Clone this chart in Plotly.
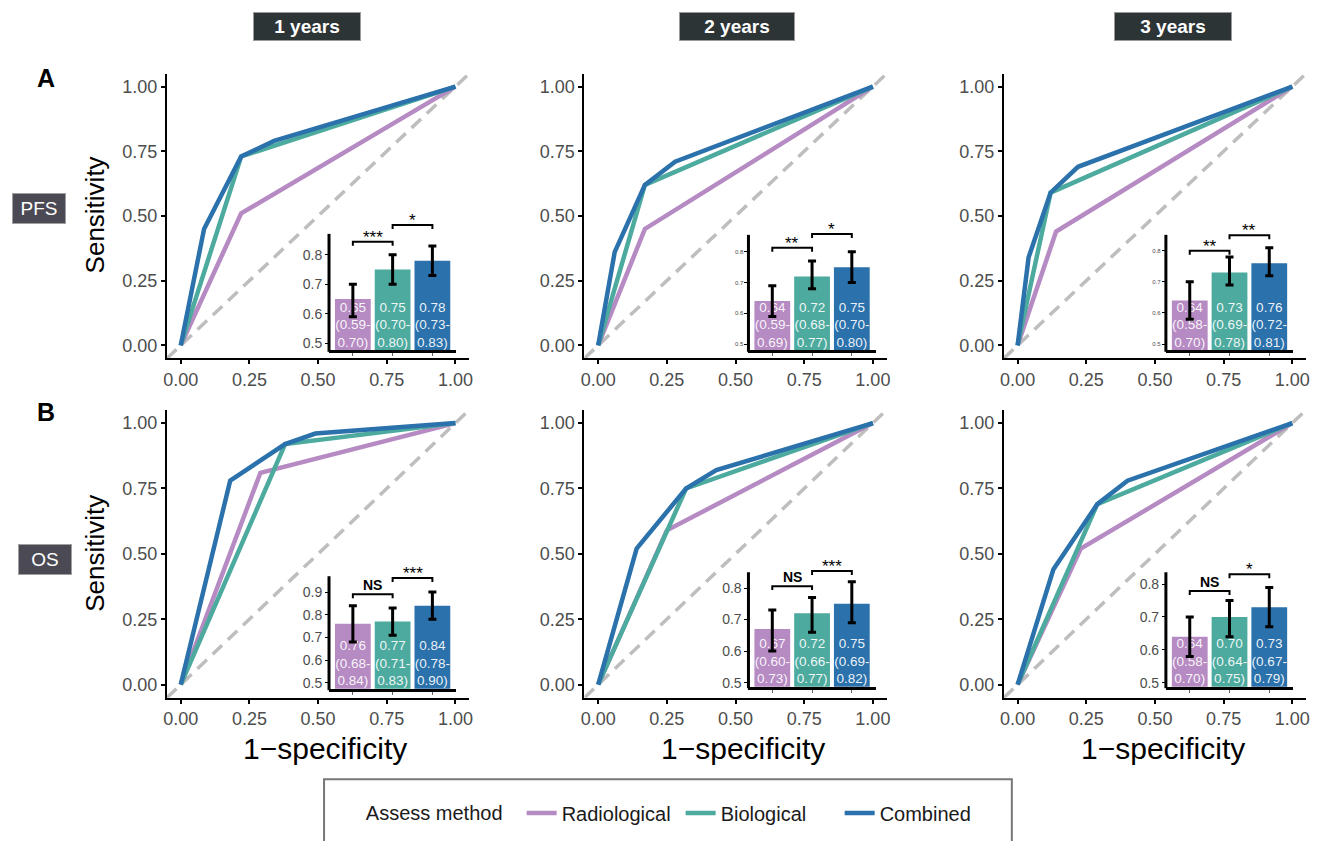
import plotly.graph_objects as go

W, H = 1317, 841
FONT = "Liberation Sans, Arial, sans-serif"

# ---------------- data ----------------
YEARS = ["1 years", "2 years", "3 years"]
OUTCOMES = ["PFS", "OS"]
METHODS = ["Radiological", "Biological", "Combined"]
COLORS = ["#B68AC2", "#4DAA9E", "#2B71AB"]

# ROC curves (1-specificity, sensitivity), one list per year
PFS_RAD_FPR = [[0, 0.22, 1], [0, 0.17, 1], [0, 0.14, 1]]
PFS_RAD_TPR = [[0, 0.51, 1], [0, 0.45, 1], [0, 0.44, 1]]
PFS_BIO_FPR = [[0, 0.22, 1], [0, 0.17, 1], [0, 0.12, 1]]
PFS_BIO_TPR = [[0, 0.73, 1], [0, 0.62, 1], [0, 0.59, 1]]
PFS_COMB_FPR = [[0, 0.085, 0.22, 0.34, 1], [0, 0.06, 0.17, 0.28, 1], [0, 0.04, 0.12, 0.22, 1]]
PFS_COMB_TPR = [[0, 0.45, 0.73, 0.79, 1], [0, 0.36, 0.62, 0.71, 1], [0, 0.34, 0.59, 0.69, 1]]

OS_RAD_FPR = [[0, 0.29, 1], [0, 0.25, 1], [0, 0.23, 1]]
OS_RAD_TPR = [[0, 0.81, 1], [0, 0.59, 1], [0, 0.52, 1]]
OS_BIO_FPR = [[0, 0.38, 1], [0, 0.32, 1], [0, 0.29, 1]]
OS_BIO_TPR = [[0, 0.92, 1], [0, 0.75, 1], [0, 0.69, 1]]
OS_COMB_FPR = [[0, 0.18, 0.38, 0.49, 1], [0, 0.14, 0.32, 0.43, 1], [0, 0.13, 0.29, 0.40, 1]]
OS_COMB_TPR = [[0, 0.78, 0.92, 0.96, 1], [0, 0.52, 0.75, 0.82, 1], [0, 0.44, 0.69, 0.78, 1]]

# AUC with 95% CI  [year][method]
PFS_AUC = [[0.65, 0.75, 0.78], [0.64, 0.72, 0.75], [0.64, 0.73, 0.76]]
PFS_LO = [[0.59, 0.70, 0.73], [0.59, 0.68, 0.70], [0.58, 0.69, 0.72]]
PFS_HI = [[0.70, 0.80, 0.83], [0.69, 0.77, 0.80], [0.70, 0.78, 0.81]]
OS_AUC = [[0.76, 0.77, 0.84], [0.67, 0.72, 0.75], [0.64, 0.70, 0.73]]
OS_LO = [[0.68, 0.71, 0.78], [0.60, 0.66, 0.69], [0.58, 0.64, 0.67]]
OS_HI = [[0.84, 0.83, 0.90], [0.73, 0.77, 0.82], [0.70, 0.75, 0.79]]

# significance labels (Rad vs Bio, Bio vs Comb) and bracket heights
PFS_SIG = [["***", "*"], ["**", "*"], ["**", "**"]]
OS_SIG = [["NS", "***"], ["NS", "***"], ["NS", "*"]]
PFS_BRACKET_Y = [[0.844, 0.901], [0.813, 0.858], [0.800, 0.850]]
OS_BRACKET_Y = [[0.891, 0.962], [0.806, 0.854], [0.779, 0.830]]

MAIN_TICKS = [0, 0.25, 0.5, 0.75, 1.0]
INSET_TICKS = [[[0.5, 0.6, 0.7, 0.8]] * 3,
               [[0.5, 0.6, 0.7, 0.8, 0.9], [0.5, 0.6, 0.7, 0.8], [0.5, 0.6, 0.7, 0.8]]]

roc_fpr = [[PFS_RAD_FPR, PFS_BIO_FPR, PFS_COMB_FPR], [OS_RAD_FPR, OS_BIO_FPR, OS_COMB_FPR]]
roc_tpr = [[PFS_RAD_TPR, PFS_BIO_TPR, PFS_COMB_TPR], [OS_RAD_TPR, OS_BIO_TPR, OS_COMB_TPR]]
auc = [PFS_AUC, OS_AUC]
auc_lo = [PFS_LO, OS_LO]
auc_hi = [PFS_HI, OS_HI]
sig = [PFS_SIG, OS_SIG]
br_y = [PFS_BRACKET_Y, OS_BRACKET_Y]

# ---------------- layout geometry (pixels) ----------------
def PX(x):
    return x / W

def PY(y):
    return 1 - y / H

COL_PX = [(164, 468), (584, 888), (1006, 1310)]
ROW_PX = [(74, 360), (412, 701)]
INSET_X0 = [327, 749, 1169]
INSET_W = 128
# (bottom px, axis top px, low value, axis top value)
INSET_GEOM = [[(352, 235, 0.476, 0.871), (352, 236, 0.48, 0.855), (352, 236, 0.48, 0.851)],
              [(692, 579, 0.474, 0.97), (690, 575, 0.487, 0.85), (690, 575, 0.488, 0.836)]]
INSET_TICKFONT = [[14, 6, 6], [14, 14, 14]]
EXTRA = 34  # px above axis for brackets

fig = go.Figure()
layout = dict(shapes=[], annotations=[])

def ref(n, l):
    return l if n == 1 else f"{l}{n}"

def axkey(n, l):
    return f"{l}axis" if n == 1 else f"{l}axis{n}"

for r in range(2):
    for c in range(3):
        k = r * 3 + c
        n = k + 1
        m = k + 7
        xr, yr = ref(n, "x"), ref(n, "y")
        # diagonal reference
        fig.add_trace(go.Scatter(x=[-0.05, 1.05], y=[-0.05, 1.05], mode="lines",
                                 line=dict(color="#BEBEBE", width=3.5, dash="13px,8px"),
                                 xaxis=xr, yaxis=yr, showlegend=False, hoverinfo="skip"))
        for mi, meth in enumerate(METHODS):
            fig.add_trace(go.Scatter(x=roc_fpr[r][mi][c], y=roc_tpr[r][mi][c], mode="lines",
                                     line=dict(color=COLORS[mi], width=4.5),
                                     name=meth, legendgroup=meth,
                                     showlegend=(k == 0), xaxis=xr, yaxis=yr))
        x0, x1 = COL_PX[c]
        t, b = ROW_PX[r]
        common = dict(showline=True, linecolor="black", linewidth=2, showgrid=False, zeroline=False,
                      ticks="outside", ticklen=4, tickwidth=1.5, tickcolor="black",
                      tickfont=dict(size=18, color="#4D4D4D", family=FONT),
                      range=[-0.05, 1.05], tickvals=MAIN_TICKS,
                      ticktext=[f"{v:.2f}" for v in MAIN_TICKS], fixedrange=True)
        layout[axkey(n, "x")] = dict(domain=[PX(x0), PX(x1)], anchor=yr, **common)
        layout[axkey(n, "y")] = dict(domain=[PY(b), PY(t)], anchor=xr, **common)

        # ---------- inset bar chart ----------
        ixr, iyr = ref(m, "x"), ref(m, "y")
        bpx, tpx, lo, hi = INSET_GEOM[r][c]
        ppu = (bpx - tpx) / (hi - lo)
        top_val = hi + EXTRA / ppu
        ix0 = INSET_X0[c]
        vals = auc[r][c]
        los = auc_lo[r][c]
        his = auc_hi[r][c]
        fig.add_trace(go.Bar(x=[1, 2, 3], y=vals, width=0.9, marker=dict(color=COLORS, line=dict(width=0)),
                             xaxis=ixr, yaxis=iyr, showlegend=False, hoverinfo="skip"))
        labels = [f"{v:.2f}<br>({l:.2f}-<br>{h:.2f})" for v, l, h in zip(vals, los, his)]
        fig.add_trace(go.Scatter(x=[1, 2, 3], y=[lo] * 3, mode="text", text=labels,
                                 textposition="top center", cliponaxis=False,
                                 textfont=dict(color="rgba(255,255,255,0.92)", size=13.5, family=FONT),
                                 xaxis=ixr, yaxis=iyr, showlegend=False, hoverinfo="skip"))
        fig.add_trace(go.Scatter(x=[1, 2, 3], y=vals, mode="markers",
                                 marker=dict(size=1, color="rgba(0,0,0,0)"),
                                 error_y=dict(type="data", symmetric=False,
                                              array=[h - v for v, h in zip(vals, his)],
                                              arrayminus=[v - l for v, l in zip(vals, los)],
                                              color="black", thickness=3, width=4),
                                 xaxis=ixr, yaxis=iyr, showlegend=False, hoverinfo="skip"))
        drop = 4 / ppu
        for j in range(2):
            yb = br_y[r][c][j]
            fig.add_trace(go.Scatter(x=[1 + j, 1 + j, 2 + j, 2 + j], y=[yb - drop, yb, yb, yb - drop],
                                     mode="lines", line=dict(color="black", width=2),
                                     xaxis=ixr, yaxis=iyr, showlegend=False, hoverinfo="skip"))
            lab = sig[r][c][j]
            if lab == "NS":
                layout["annotations"].append(dict(x=1.5 + j, y=yb, xref=ixr, yref=iyr, text="<b>NS</b>",
                                                  showarrow=False, xanchor="center", yanchor="bottom", yshift=-1,
                                                  font=dict(size=14, color="black", family=FONT)))
            else:
                layout["annotations"].append(dict(x=1.5 + j, y=yb, xref=ixr, yref=iyr, text=lab,
                                                  showarrow=False, xanchor="center", yanchor="bottom", yshift=-7,
                                                  font=dict(size=17, color="black", family=FONT)))
        layout[axkey(m, "x")] = dict(domain=[PX(ix0), PX(ix0 + INSET_W)], anchor=iyr, range=[0.4, 3.6],
                                     showline=True, linecolor="black", linewidth=3, showgrid=False,
                                     zeroline=False, tickvals=[1, 2, 3], ticks="outside", ticklen=3,
                                     tickwidth=1, tickcolor="#666", showticklabels=False, fixedrange=True)
        tv = INSET_TICKS[r][c]
        layout[axkey(m, "y")] = dict(domain=[PY(bpx), PY(tpx - EXTRA)], anchor=ixr, range=[lo, top_val],
                                     showline=False, showgrid=False, zeroline=False,
                                     tickvals=tv, ticktext=[f"{v:.1f}" for v in tv],
                                     ticks="outside", ticklen=3, tickwidth=1, tickcolor="black",
                                     tickfont=dict(size=INSET_TICKFONT[r][c], color="#4D4D4D", family=FONT),
                                     fixedrange=True)
        layout["shapes"].append(dict(type="line", xref="paper", yref="paper",
                                     x0=PX(ix0), x1=PX(ix0), y0=PY(bpx + 1.5), y1=PY(tpx),
                                     line=dict(color="black", width=3)))

# strip labels
for c, (yr_txt, cx, wbox) in enumerate(zip(YEARS, [305, 737, 1176], [106, 114, 116])):
    layout["annotations"].append(dict(x=PX(cx), y=PY(27), xref="paper", yref="paper",
                                      xanchor="center", yanchor="middle",
                                      text=f"<b>{yr_txt}</b>", showarrow=False,
                                      width=wbox, height=27, bgcolor="#2D3436", bordercolor="#9A9A9A",
                                      borderwidth=1, borderpad=0,
                                      font=dict(size=19, color="white", family=FONT)))
# row labels
for txt, cx, cy in [(OUTCOMES[0], 35, 209.5), (OUTCOMES[1], 41, 562.5)]:
    layout["annotations"].append(dict(x=PX(cx), y=PY(cy), xref="paper", yref="paper", text=txt,
                                      xanchor="center", yanchor="middle",
                                      showarrow=False, width=52, height=29, bgcolor="#4B4A54",
                                      bordercolor="#A0A0A0", borderwidth=1, borderpad=0,
                                      font=dict(size=19, color="white", family=FONT)))
# panel letters
for txt, cy in [("A", 78), ("B", 414)]:
    layout["annotations"].append(dict(x=PX(42), y=PY(cy), xref="paper", yref="paper", text=f"<b>{txt}</b>",
                                      xanchor="center", yanchor="middle",
                                      showarrow=False, font=dict(size=25, color="black", family=FONT)))
# axis titles
for cy in [216, 556]:
    layout["annotations"].append(dict(x=PX(92), y=PY(cy), xref="paper", yref="paper", text="Sensitivity",
                                      xanchor="center", yanchor="middle",
                                      textangle=-90, showarrow=False,
                                      font=dict(size=26, color="black", family=FONT)))
for cx in [323, 744, 1166]:
    layout["annotations"].append(dict(x=PX(cx), y=PY(752), xref="paper", yref="paper", text="1−specificity",
                                      xanchor="center", yanchor="middle",
                                      showarrow=False, font=dict(size=30, color="black", family=FONT)))
# legend frame
layout["shapes"].append(dict(type="rect", xref="paper", yref="paper", x0=PX(322), x1=PX(1014),
                             y0=PY(783), y1=PY(870), line=dict(color="#777777", width=2),
                             fillcolor="rgba(0,0,0,0)"))

fig.update_layout(
    width=W, height=H, margin=dict(l=0, r=0, t=0, b=0),
    paper_bgcolor="white", plot_bgcolor="rgba(0,0,0,0)",
    font=dict(family=FONT),
    showlegend=True,
    legend=dict(orientation="h", x=PX(362), y=PY(817), xanchor="left", yanchor="middle",
                title=dict(text="Assess method  ", side="left", font=dict(size=20, color="#1A1A1A")),
                font=dict(size=20, color="#1A1A1A", family=FONT), itemwidth=30,
                entrywidth=114, entrywidthmode="pixels",
                bgcolor="rgba(0,0,0,0)", tracegroupgap=0),
    **layout,
)

fig.write_html("out.html", config={"displayModeBar": False},
               post_script="document.body.style.margin='0';")
